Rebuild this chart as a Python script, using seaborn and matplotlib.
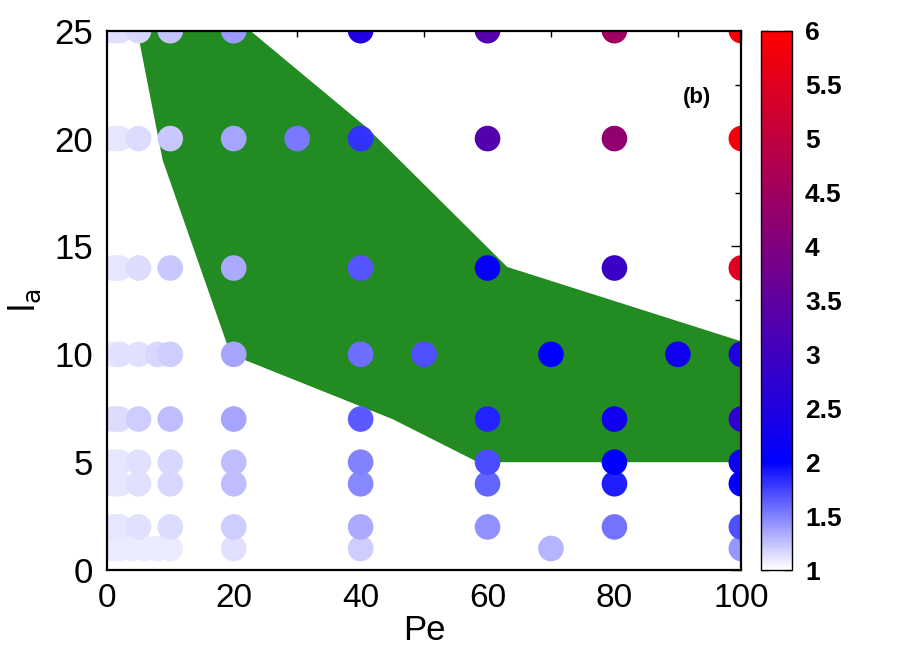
import numpy as np
import pandas as pd
import seaborn as sns
import matplotlib.pyplot as plt
from matplotlib.colors import LinearSegmentedColormap, Normalize
from matplotlib.patches import Polygon
from matplotlib.cm import ScalarMappable
from matplotlib.ticker import MultipleLocator

sns.set_style("white")
plt.rcParams['font.family'] = ['Liberation Sans', 'DejaVu Sans']
plt.rcParams['text.color'] = 'black'
plt.rcParams['axes.labelcolor'] = 'black'
plt.rcParams['xtick.color'] = 'black'
plt.rcParams['ytick.color'] = 'black'

# one row of points per l_a value: Pe positions and colour values
la_rows = [1, 2, 4, 5, 7, 10, 14, 20, 25]
pe_rows = [
    [1, 2, 4, 6, 8, 10, 20, 40, 70, 100],
    [1, 2, 5, 10, 20, 40, 60, 80, 100],
    [1, 2, 5, 10, 20, 40, 60, 80, 100],
    [1, 2, 5, 10, 20, 40, 60, 80, 100],
    [1, 2, 5, 10, 20, 40, 60, 80, 100],
    [1, 2, 5, 8, 10, 20, 40, 50, 70, 90, 100],
    [1, 2, 5, 10, 20, 40, 60, 80, 100],
    [1, 2, 5, 10, 20, 30, 40, 60, 80, 100],
    [1, 2, 5, 10, 20, 40, 60, 80, 100],
]
val_rows = [
    [1.08, 1.08, 1.08, 1.08, 1.08, 1.09, 1.13, 1.2, 1.31, 1.42],
    [1.1, 1.1, 1.12, 1.14, 1.2, 1.34, 1.44, 1.56, 1.69],
    [1.1, 1.1, 1.13, 1.17, 1.27, 1.47, 1.62, 1.89, 2.0],
    [1.1, 1.1, 1.13, 1.17, 1.27, 1.5, 1.72, 2.0, 2.2],
    [1.15, 1.15, 1.2, 1.27, 1.37, 1.65, 1.87, 2.25, 2.75],
    [1.09, 1.12, 1.13, 1.17, 1.2, 1.37, 1.58, 1.69, 2.0, 2.25, 2.5],
    [1.1, 1.11, 1.15, 1.22, 1.34, 1.67, 2.1, 2.9, 5.5],
    [1.1, 1.1, 1.15, 1.22, 1.37, 1.53, 1.82, 3.3, 4.25, 5.8],
    [1.12, 1.12, 1.17, 1.25, 1.4, 2.5, 3.3, 4.5, 5.9],
]

# green region outline (Pe, l_a)
region_pe = [4.8, 22.6, 41, 63.1, 100, 100, 58.5, 45, 19.5, 8.8]
region_la = [25, 25, 20.5, 14.05, 10.6, 5, 5, 7, 10, 19]

rows = []
for la, pes, vals in zip(la_rows, pe_rows, val_rows):
    for pe, v in zip(pes, vals):
        rows.append((pe, la, v))
df = pd.DataFrame(rows, columns=['Pe', 'la', 'val'])

cmap = LinearSegmentedColormap.from_list(
    'wbr', [(0.0, (1, 1, 1)), (0.2, (0, 0, 1)), (1.0, (1, 0, 0))])
norm = Normalize(1, 6)

fig = plt.figure(figsize=(9.13, 6.53), dpi=100)
ax = fig.add_axes([0.117, 0.127, 0.695, 0.826])
cax = fig.add_axes([0.834, 0.127, 0.034, 0.826])

ax.add_patch(Polygon(list(zip(region_pe, region_la)), closed=True,
                     facecolor='#228B22', edgecolor='none', zorder=1))

sns.scatterplot(data=df, x='Pe', y='la', hue='val', palette=cmap,
                hue_norm=(1, 6), s=340, linewidth=0, legend=False,
                ax=ax, zorder=2)

ax.set_xlim(0, 100)
ax.set_ylim(0, 25)
ax.xaxis.set_major_locator(MultipleLocator(20))
ax.xaxis.set_minor_locator(MultipleLocator(10))
ax.yaxis.set_major_locator(MultipleLocator(5))
ax.yaxis.set_minor_locator(MultipleLocator(2.5))
ax.tick_params(which='both', direction='in', top=True, right=True, width=1)
ax.tick_params(which='major', length=7)
ax.tick_params(which='minor', length=4)
ax.tick_params(axis='x', labelsize=24, pad=9)
ax.tick_params(axis='y', labelsize=25, pad=10)
for s in ax.spines.values():
    s.set_linewidth(1.6)
    s.set_color('black')
    s.set_zorder(5)
ax.set_xlabel('Pe', fontsize=25, labelpad=0)
ax.set_ylabel('l$_\\mathrm{a}$', fontsize=26, labelpad=8)
ax.text(93, 21.9, '(b)', fontsize=16, fontweight='bold',
        ha='center', va='center')

cb = fig.colorbar(ScalarMappable(norm=norm, cmap=cmap), cax=cax)
cb.set_ticks(np.arange(1, 6.01, 0.5))
cb.set_ticklabels(['1', '1.5', '2', '2.5', '3', '3.5', '4', '4.5', '5', '5.5', '6'])
cax.tick_params(direction='in', length=6, width=1, left=True, right=True,
                labelsize=19, pad=9)
for lab in cax.get_yticklabels():
    lab.set_fontweight('bold')
cb.outline.set_linewidth(1)
cb.outline.set_edgecolor('black')

fig.savefig('out.png', dpi=100)
